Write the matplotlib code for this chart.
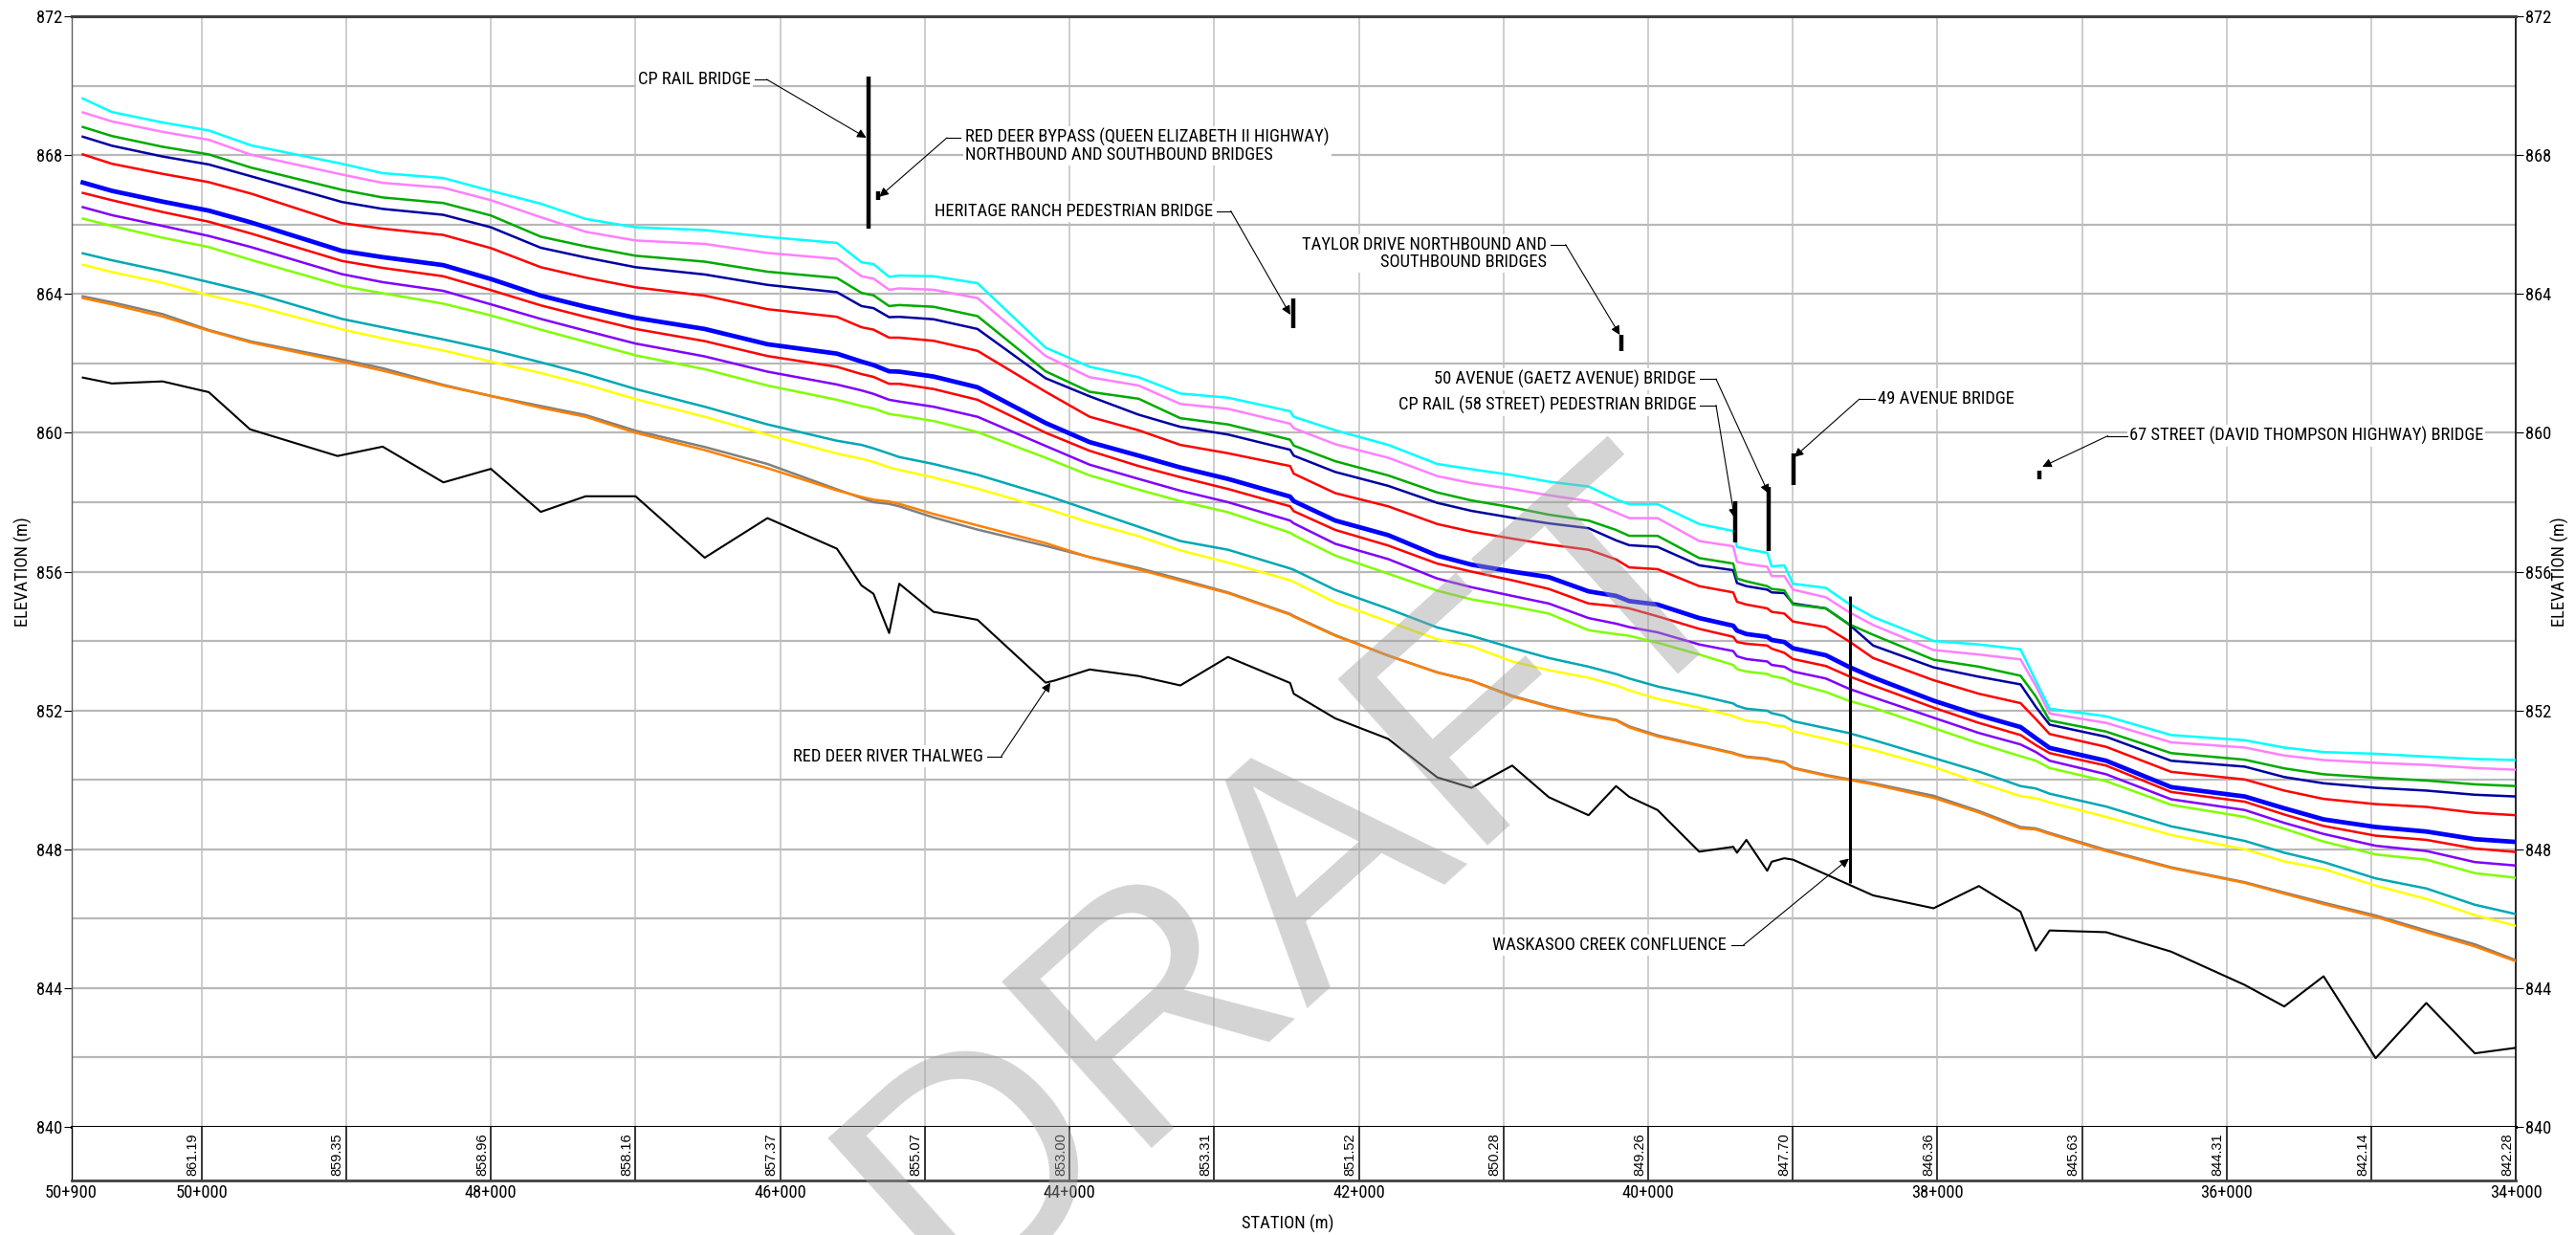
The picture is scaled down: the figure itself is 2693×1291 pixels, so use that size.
"""
Red Deer River water surface profiles along the river station
"""

import matplotlib
matplotlib.use('Agg')
import matplotlib.pyplot as plt
from matplotlib import font_manager
import numpy as np

# River stations (m) of the cross sections, upstream to downstream
station = [50821, 50620, 50270, 49950, 49658, 49030, 48749, 48330, 48000, 47655,
           47345, 47000, 46522, 46088, 45608, 45438, 45355, 45247, 45177, 44940,
           44636, 44165, 43861, 43522, 43234, 42905, 42475, 42450, 42163, 41797,
           41458, 41222, 40940, 40687, 40412, 40222, 40131, 39935, 39647, 39412,
           39386, 39321, 39177, 39146, 39059, 38999, 38772, 38615, 38445, 38027,
           37714, 37426, 37320, 37225, 36834, 36385, 35876, 35603, 35331, 34971,
           34621, 34285, 34000]

# Water surface elevations (m) for each profile
wsel_cyan = [869.63, 869.24, 868.94, 868.71, 868.28, 867.75, 867.48, 867.34, 866.97, 866.60,
             866.16, 865.92, 865.84, 865.64, 865.47, 864.91, 864.86, 864.49, 864.53, 864.51,
             864.31, 862.45, 861.90, 861.60, 861.13, 861.01, 860.62, 860.46, 860.07, 859.65,
             859.10, 858.95, 858.78, 858.59, 858.45, 858.08, 857.94, 857.94, 857.37, 857.17,
             856.71, 856.65, 856.54, 856.15, 856.18, 855.65, 855.53, 855.08, 854.69, 854.00,
             853.90, 853.76, 852.85, 852.05, 851.83, 851.29, 851.14, 850.93, 850.80, 850.75,
             850.67, 850.60, 850.57]
wsel_pink = [869.23, 868.97, 868.67, 868.44, 868.01, 867.44, 867.20, 867.06, 866.70, 866.21,
             865.79, 865.54, 865.44, 865.18, 865.01, 864.51, 864.44, 864.12, 864.16, 864.12,
             863.88, 862.21, 861.60, 861.36, 860.83, 860.69, 860.26, 860.13, 859.67, 859.28,
             858.75, 858.55, 858.38, 858.20, 858.03, 857.70, 857.54, 857.54, 856.88, 856.73,
             856.28, 856.22, 856.14, 855.87, 855.87, 855.48, 855.26, 854.84, 854.46, 853.74,
             853.61, 853.47, 852.70, 851.91, 851.64, 851.08, 850.93, 850.70, 850.57, 850.49,
             850.43, 850.34, 850.29]
wsel_green = [868.81, 868.55, 868.24, 868.02, 867.64, 867.00, 866.78, 866.62, 866.26, 865.65,
              865.37, 865.10, 864.93, 864.64, 864.46, 864.03, 863.96, 863.65, 863.68, 863.63,
              863.36, 861.77, 861.18, 860.98, 860.42, 860.24, 859.80, 859.63, 859.18, 858.77,
              858.28, 858.05, 857.85, 857.64, 857.47, 857.20, 857.03, 857.03, 856.39, 856.23,
              855.80, 855.72, 855.58, 855.50, 855.46, 855.05, 854.94, 854.49, 854.18, 853.46,
              853.26, 853.00, 852.40, 851.71, 851.39, 850.77, 850.58, 850.33, 850.16, 850.06,
              849.98, 849.87, 849.82]
wsel_navy = [868.53, 868.27, 867.96, 867.73, 867.39, 866.65, 866.45, 866.28, 865.92, 865.33,
             865.05, 864.77, 864.56, 864.26, 864.05, 863.65, 863.59, 863.33, 863.34, 863.27,
             862.99, 861.57, 861.05, 860.52, 860.17, 859.95, 859.51, 859.34, 858.87, 858.47,
             857.98, 857.75, 857.55, 857.39, 857.25, 856.90, 856.76, 856.71, 856.18, 856.04,
             855.67, 855.58, 855.48, 855.40, 855.38, 855.08, 854.94, 854.49, 853.87, 853.24,
             852.97, 852.75, 852.10, 851.59, 851.24, 850.55, 850.38, 850.08, 849.90, 849.77,
             849.69, 849.57, 849.52]
wsel_red_upper = [868.02, 867.75, 867.46, 867.22, 866.89, 866.04, 865.88, 865.70, 865.32, 864.77,
                  864.47, 864.19, 863.95, 863.56, 863.34, 863.04, 862.97, 862.74, 862.74, 862.65,
                  862.36, 861.18, 860.46, 860.07, 859.65, 859.41, 859.04, 858.82, 858.26, 857.88,
                  857.37, 857.15, 856.95, 856.78, 856.63, 856.35, 856.12, 856.07, 855.58, 855.40,
                  855.13, 855.05, 854.94, 854.84, 854.79, 854.56, 854.40, 854.00, 853.51, 852.87,
                  852.48, 852.21, 851.75, 851.32, 850.95, 850.23, 850.01, 849.69, 849.45, 849.30,
                  849.22, 849.05, 848.98]
wsel_blue = [867.21, 866.97, 866.66, 866.40, 866.06, 865.24, 865.06, 864.83, 864.43, 863.95,
             863.63, 863.31, 862.99, 862.55, 862.28, 862.05, 861.95, 861.77, 861.76, 861.62,
             861.31, 860.28, 859.73, 859.34, 859.00, 858.67, 858.16, 858.03, 857.47, 857.05,
             856.46, 856.20, 856.00, 855.84, 855.43, 855.30, 855.15, 855.05, 854.66, 854.44,
             854.30, 854.20, 854.12, 854.03, 853.97, 853.79, 853.59, 853.26, 852.95, 852.28,
             851.86, 851.52, 851.20, 850.92, 850.55, 849.79, 849.52, 849.18, 848.86, 848.64,
             848.51, 848.29, 848.21]
wsel_red_lower = [866.91, 866.70, 866.36, 866.08, 865.74, 864.95, 864.75, 864.51, 864.11, 863.67,
                  863.34, 862.99, 862.64, 862.21, 861.90, 861.69, 861.61, 861.41, 861.41, 861.26,
                  860.95, 860.00, 859.48, 859.04, 858.72, 858.38, 857.88, 857.74, 857.20, 856.75,
                  856.23, 856.00, 855.75, 855.50, 855.08, 855.00, 854.94, 854.71, 854.35, 854.12,
                  853.97, 853.92, 853.87, 853.78, 853.66, 853.48, 853.28, 852.99, 852.72, 852.08,
                  851.64, 851.29, 851.00, 850.77, 850.41, 849.65, 849.37, 849.00, 848.67, 848.39,
                  848.27, 848.02, 847.92]
wsel_purple = [866.50, 866.27, 865.96, 865.67, 865.35, 864.57, 864.34, 864.09, 863.70, 863.28,
               862.94, 862.57, 862.20, 861.76, 861.39, 861.22, 861.12, 860.95, 860.90, 860.75,
               860.46, 859.62, 859.08, 858.67, 858.33, 858.00, 857.47, 857.39, 856.80, 856.36,
               855.80, 855.55, 855.30, 855.08, 854.66, 854.50, 854.40, 854.25, 853.90, 853.71,
               853.56, 853.48, 853.41, 853.31, 853.26, 853.12, 852.92, 852.63, 852.38, 851.79,
               851.35, 851.02, 850.80, 850.55, 850.16, 849.44, 849.13, 848.76, 848.44, 848.10,
               847.95, 847.63, 847.53]
wsel_lime = [866.17, 865.96, 865.62, 865.35, 864.98, 864.23, 864.02, 863.72, 863.38, 862.97,
             862.62, 862.23, 861.83, 861.36, 860.95, 860.77, 860.70, 860.54, 860.50, 860.34,
             860.02, 859.28, 858.77, 858.36, 858.03, 857.71, 857.12, 857.05, 856.46, 855.94,
             855.45, 855.20, 855.00, 854.79, 854.31, 854.20, 854.15, 853.95, 853.61, 853.31,
             853.19, 853.12, 853.05, 852.99, 852.92, 852.79, 852.53, 852.28, 852.08, 851.49,
             851.05, 850.68, 850.55, 850.34, 849.96, 849.28, 848.93, 848.59, 848.22, 847.85,
             847.70, 847.31, 847.18]
wsel_teal = [865.17, 864.97, 864.66, 864.34, 864.05, 863.28, 863.04, 862.69, 862.39, 862.03,
             861.69, 861.26, 860.75, 860.24, 859.77, 859.65, 859.55, 859.40, 859.30, 859.10,
             858.79, 858.20, 857.77, 857.29, 856.88, 856.63, 856.09, 856.05, 855.47, 854.93,
             854.39, 854.15, 853.80, 853.51, 853.26, 853.05, 852.92, 852.69, 852.43, 852.20,
             852.13, 852.05, 851.99, 851.92, 851.84, 851.69, 851.49, 851.35, 851.15, 850.63,
             850.24, 849.82, 849.75, 849.60, 849.23, 848.66, 848.24, 847.90, 847.63, 847.16,
             846.87, 846.40, 846.13]
wsel_yellow = [864.84, 864.63, 864.32, 863.96, 863.68, 862.98, 862.72, 862.37, 862.05, 861.72,
               861.39, 860.97, 860.46, 859.94, 859.40, 859.25, 859.16, 859.00, 858.93, 858.71,
               858.39, 857.82, 857.41, 857.02, 856.61, 856.26, 855.75, 855.70, 855.11, 854.56,
               854.05, 853.85, 853.41, 853.16, 852.94, 852.72, 852.58, 852.33, 852.08, 851.84,
               851.79, 851.70, 851.64, 851.58, 851.54, 851.40, 851.18, 851.02, 850.86, 850.37,
               849.92, 849.53, 849.47, 849.35, 848.93, 848.41, 848.00, 847.65, 847.43, 846.95,
               846.57, 846.10, 845.79]
wsel_gray = [863.93, 863.76, 863.42, 862.96, 862.63, 862.11, 861.86, 861.38, 861.06, 860.77,
             860.51, 860.06, 859.59, 859.10, 858.37, 858.12, 858.00, 857.95, 857.88, 857.56,
             857.21, 856.74, 856.42, 856.10, 855.78, 855.40, 854.78, 854.72, 854.17, 853.58,
             853.10, 852.86, 852.42, 852.13, 851.86, 851.73, 851.54, 851.28, 851.00, 850.78,
             850.74, 850.67, 850.61, 850.57, 850.51, 850.35, 850.14, 850.02, 849.90, 849.54,
             849.10, 848.64, 848.60, 848.47, 847.98, 847.48, 847.05, 846.75, 846.46, 846.09,
             845.66, 845.26, 844.80]
wsel_orange = [863.88, 863.70, 863.35, 862.94, 862.60, 862.05, 861.79, 861.36, 861.06, 860.72,
               860.46, 860.00, 859.50, 858.98, 858.34, 858.15, 858.07, 858.02, 857.95, 857.66,
               857.33, 856.82, 856.41, 856.06, 855.74, 855.38, 854.76, 854.70, 854.15, 853.58,
               853.09, 852.85, 852.40, 852.11, 851.84, 851.71, 851.51, 851.25, 850.98, 850.76,
               850.72, 850.65, 850.59, 850.55, 850.49, 850.33, 850.12, 850.00, 849.87, 849.48,
               849.06, 848.60, 848.57, 848.44, 847.95, 847.46, 847.03, 846.72, 846.42, 846.05,
               845.61, 845.20, 844.77]

# Channel bed (thalweg)
thalweg_station = [50821, 50620, 50270, 49950, 49665, 49060, 48748, 48328, 48000, 47655,
                   47345, 47000, 46522, 46088, 45608, 45438, 45355, 45247, 45177, 44940,
                   44636, 44165, 44103, 43861, 43522, 43234, 42905, 42475, 42450, 42163,
                   41797, 41458, 41222, 40940, 40687, 40412, 40222, 40131, 39935, 39647,
                   39412, 39386, 39321, 39177, 39146, 39059, 38999, 38445, 38027, 37714,
                   37426, 37320, 37225, 36834, 36385, 35876, 35603, 35331, 34971, 34621,
                   34285, 34000]
thalweg_elev = [861.59, 861.42, 861.48, 861.17, 860.10, 859.33, 859.60, 858.57, 858.96, 857.72,
                858.17, 858.17, 856.40, 857.54, 856.66, 855.60, 855.36, 854.23, 855.65, 854.84,
                854.61, 852.80, 852.86, 853.18, 852.99, 852.72, 853.54, 852.79, 852.48, 851.77,
                851.18, 850.07, 849.77, 850.41, 849.50, 848.98, 849.82, 849.51, 849.13, 847.93,
                848.07, 847.90, 848.27, 847.38, 847.64, 847.74, 847.70, 846.67, 846.30, 846.94,
                846.20, 845.08, 845.66, 845.61, 845.05, 844.09, 843.47, 844.34, 841.98, 843.57,
                842.12, 842.28]

# Thalweg elevation tabulated at each kilometre
table_station = [50000, 49000, 48000, 47000, 46000, 45000, 44000, 43000, 42000,
                 41000, 40000, 39000, 38000, 37000, 36000, 35000, 34000]
table_elev = [861.19, 859.35, 858.96, 858.16, 857.37, 855.07, 853.00, 853.31, 851.52,
              850.28, 849.26, 847.70, 846.36, 845.63, 844.31, 842.14, 842.28]

# Bridge decks: station, low chord and top of deck
bridge_station = [45386, 45322, 42456, 40185, 39399, 39164, 38994, 37296]
bridge_low = [865.89, 866.71, 863.02, 862.36, 856.85, 856.59, 858.50, 858.65]
bridge_high = [870.27, 866.95, 863.88, 862.82, 858.03, 858.45, 859.41, 858.92]

# Waskasoo Creek confluence marker
creek_station = 38605
creek_low = 847.02
creek_high = 855.30

x_label_station = [50900, 50000, 48000, 46000, 44000, 42000, 40000, 38000, 36000, 34000]

# Condensed font for the drawing text if one is installed
installed = {f.name for f in font_manager.fontManager.ttflist}
NARROW, FS = 'Liberation Sans', 10.7
for name, size in [('Liberation Sans Narrow', 13), ('Roboto Condensed', 13.3),
                   ('Open Sans Condensed', 12)]:
    if name in installed:
        NARROW, FS = name, size
        break
plt.rcParams['font.family'] = NARROW

fig = plt.figure(figsize=(26.93, 12.91), dpi=100)
ax = fig.add_axes([0.0277, 0.08753, 0.94906, 0.8993])
box = fig.add_axes([0.0277, 0.04415, 0.94906, 0.04338])

# Grid
for y in range(842, 872, 2):
    ax.axhline(y, color='#b8b8b8', lw=1.6, zorder=0)
for s in range(35000, 50001, 1000):
    ax.axvline(s, color='#c0c0c0', lw=1.1, zorder=0)

# Profiles
ax.plot(thalweg_station, thalweg_elev, color='black', lw=1.5, zorder=3)
ax.plot(station, wsel_gray, color='#808080', lw=1.8, zorder=3)
ax.plot(station, wsel_orange, color='#ff8000', lw=1.8, zorder=3)
ax.plot(station, wsel_yellow, color='#ffff00', lw=1.8, zorder=3)
ax.plot(station, wsel_teal, color='#00a8b4', lw=1.8, zorder=3)
ax.plot(station, wsel_lime, color='#80ff00', lw=1.8, zorder=3)
ax.plot(station, wsel_purple, color='#8000ff', lw=1.8, zorder=3)
ax.plot(station, wsel_red_lower, color='#ff0000', lw=1.8, zorder=3)
ax.plot(station, wsel_blue, color='#0000ff', lw=3.4, zorder=3)
ax.plot(station, wsel_red_upper, color='#ff0000', lw=1.8, zorder=3)
ax.plot(station, wsel_navy, color='#0000a0', lw=1.8, zorder=3)
ax.plot(station, wsel_green, color='#00aa00', lw=1.8, zorder=3)
ax.plot(station, wsel_pink, color='#ff80ff', lw=1.8, zorder=3)
ax.plot(station, wsel_cyan, color='#00ffff', lw=1.8, zorder=3)

# Bridges and creek
ax.vlines(bridge_station, bridge_low, bridge_high, color='black', lw=3.2, zorder=4)
ax.vlines(creek_station, creek_low, creek_high, color='black', lw=2.2, zorder=4)

# Callouts: text, leader dash, arrow to the feature
def callout(text, xy_text, ha, dash, tip):
    ax.text(xy_text[0], xy_text[1], text, ha=ha, va='center', fontsize=FS,
            linespacing=1.0, multialignment=ha,
            bbox=dict(facecolor='white', edgecolor='none', pad=1.5), zorder=5)
    ax.plot([dash[0], dash[1]], [dash[2], dash[2]], color='black', lw=0.8, zorder=5)
    ax.annotate('', xy=tip, xytext=(dash[1], dash[2]),
                arrowprops=dict(arrowstyle='-|>', color='black', lw=0.8,
                                mutation_scale=14, shrinkA=0, shrinkB=0),
                zorder=5)

callout('CP RAIL BRIDGE', (46205, 870.18), 'right', (46176, 46093, 870.18), (45405, 868.50))
callout('RED DEER BYPASS (QUEEN ELIZABETH II HIGHWAY)\nNORTHBOUND AND SOUTHBOUND BRIDGES',
        (44720, 868.26), 'left', (44752, 44847, 868.50), (45314, 866.80))
callout('HERITAGE RANCH PEDESTRIAN BRIDGE', (43010, 866.39), 'right',
        (42980, 42885, 866.39), (42474, 863.40))
callout('TAYLOR DRIVE NORTHBOUND AND\nSOUTHBOUND BRIDGES', (40700, 865.16), 'right',
        (40673, 40571, 865.42), (40196, 862.82))
callout('50 AVENUE (GAETZ AVENUE) BRIDGE', (39668, 861.55), 'right',
        (39640, 39531, 861.55), (39168, 858.25))
callout('CP RAIL (58 STREET) PEDESTRIAN BRIDGE', (39668, 860.79), 'right',
        (39640, 39531, 860.79), (39403, 857.55))
callout('49 AVENUE BRIDGE', (38410, 860.97), 'left', (38431, 38540, 860.97), (38990, 859.30))
callout('67 STREET (DAVID THOMPSON HIGHWAY) BRIDGE', (36675, 859.91), 'left',
        (36687, 36823, 859.91), (37275, 859.02))
callout('RED DEER RIVER THALWEG', (44598, 850.68), 'right', (44567, 44471, 850.68), (44132, 852.80))
callout('WASKASOO CREEK CONFLUENCE', (39460, 845.24), 'right', (39426, 39341, 845.24), (38612, 847.73))

# Main axes
ax.set_xlim(50900, 34000)
ax.set_ylim(840, 872)
ax.set_xticks([])
ax.set_yticks(np.arange(840, 873, 4))
ax.tick_params(axis='y', left=True, right=True, labelleft=True, labelright=True,
               length=6, width=0.8, pad=1, labelsize=FS)
ax.spines['top'].set_linewidth(2.2)
ax.spines['top'].set_color('#404040')
ax.spines['bottom'].set_linewidth(2.2)
ax.spines['left'].set_linewidth(1.0)
ax.spines['left'].set_color('#606060')
ax.spines['right'].set_linewidth(1.2)

# Thalweg table under the profile
box.set_xlim(50900, 34000)
box.set_ylim(0, 1)
box.set_yticks([])
box.set_xticks(x_label_station)
box.set_xticklabels([f'{s // 1000}+{s % 1000:03d}' for s in x_label_station])
box.tick_params(axis='x', length=0, pad=3, labelsize=FS)
box.spines['top'].set_visible(False)
box.spines['bottom'].set_linewidth(2.0)
box.spines['bottom'].set_color('#404040')
box.spines['left'].set_linewidth(1.0)
box.spines['right'].set_linewidth(1.2)
for s, v in zip(table_station, table_elev):
    if s > 34000:
        box.axvline(s, color='black', lw=1.1)
    box.text(s + 14, 0.89, f'{v:.2f}', rotation=90, ha='right', va='top',
             fontsize=10.5, family='Liberation Sans')

# Axis titles
fig.text(0.0089, 0.537, 'ELEVATION (m)', rotation=90, ha='center', va='center', fontsize=FS)
fig.text(0.9937, 0.537, 'ELEVATION (m)', rotation=90, ha='center', va='center', fontsize=FS)
fig.text(0.5, 0.0088, 'STATION (m)', ha='center', va='center', fontsize=FS)

# Watermark, anchored at the middle of its baseline
fig.text(0.5256, 0.2378, 'DRAFT', rotation=42, rotation_mode='anchor', fontsize=245,
         color='#a0a0a0', alpha=0.45, ha='center', va='baseline',
         family='Liberation Sans', zorder=10)

fig.savefig('out.png', dpi=100)
